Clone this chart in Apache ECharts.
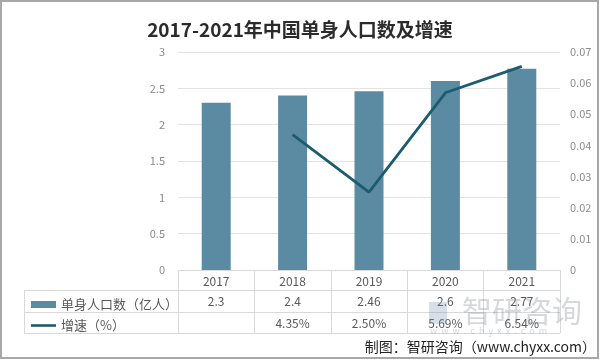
<!DOCTYPE html>
<html><head><meta charset="utf-8">
<script src="https://cdn.jsdelivr.net/npm/echarts@6/dist/echarts.min.js"></script>
<style>html,body{margin:0;padding:0;background:#fff}#c{width:600px;height:360px}</style>
</head><body><div id="c"></div>
<script>
const categories = ['2017', '2018', '2019', '2020', '2021'];
const population = [2.3, 2.4, 2.46, 2.6, 2.77];
const growth = [null, 0.0435, 0.025, 0.0569, 0.0654];
const leftTicks = { min: 0, max: 3, interval: 0.5 };
const rightTicks = { min: 0, max: 0.07, interval: 0.01 };
const seriesNames = ['单身人口数（亿人）', '增速（%）'];

const popLabels = population.map(v => String(v));
const growthLabels = growth.map(v => v == null ? '' : (v * 100).toFixed(2) + '%');

const FONT = '"Noto Sans CJK SC", "Noto Sans", sans-serif';
const gridC = '#d9d9d9';
const chart = echarts.init(document.getElementById('c'));
chart.setOption({
  animation: false,
  textStyle: { fontFamily: FONT },
  title: {
    text: '2017-2021年中国单身人口数及增速',
    left: 'center', top: 15,
    textStyle: { fontFamily: FONT, fontSize: 19, fontWeight: 'bold', color: '#2b2b2b' }
  },
  grid: { left: 178, right: 40, top: 52, bottom: 90 },
  legend: {
    orient: 'vertical', left: 26, top: 293, itemGap: 8,
    itemWidth: 25, itemHeight: 7,
    textStyle: { fontSize: 13, color: '#595959', fontFamily: FONT },
    data: [
      { name: seriesNames[0], icon: 'rect' },
      { name: seriesNames[1], icon: 'path://M0,0 L24,0 L24,2.5 L0,2.5 Z' }
    ]
  },
  xAxis: [
    {
      type: 'category', data: categories, position: 'bottom',
      axisLine: { lineStyle: { color: gridC } },
      axisTick: { show: true, length: 63, lineStyle: { color: gridC } },
      axisLabel: { color: '#595959', fontSize: 12, margin: 5 }
    },
    {
      type: 'category', data: popLabels, position: 'bottom', offset: 20,
      axisLine: { show: false }, axisTick: { show: false },
      axisLabel: { color: '#595959', fontSize: 12, margin: 5 }
    },
    {
      type: 'category', data: growthLabels, position: 'bottom', offset: 42,
      axisLine: { show: false }, axisTick: { show: false },
      axisLabel: { color: '#595959', fontSize: 12, margin: 5 }
    }
  ],
  yAxis: [
    {
      type: 'value', min: leftTicks.min, max: leftTicks.max, interval: leftTicks.interval,
      axisLine: { show: false }, axisTick: { show: false },
      axisLabel: { color: '#8c8c8c', fontSize: 11, margin: 13 },
      splitLine: { lineStyle: { color: '#e3e3e3' } }
    },
    {
      type: 'value', min: rightTicks.min, max: rightTicks.max, interval: rightTicks.interval,
      axisLine: { show: false }, axisTick: { show: false },
      axisLabel: { color: '#8c8c8c', fontSize: 11, margin: 10,
        formatter: v => String(+v.toFixed(2)) },
      splitLine: { show: false }
    }
  ],
  series: [
    {
      name: seriesNames[0], type: 'bar', data: population, barWidth: 29,
      itemStyle: { color: '#5b8ba3' }
    },
    {
      name: seriesNames[1], type: 'line', yAxisIndex: 1, data: growth,
      showSymbol: false, symbol: 'none',
      lineStyle: { color: '#1c5b70', width: 2.8 }, itemStyle: { color: '#1c5b70' }
    }
  ],
  graphic: [
    { type: 'line', shape: { x1: 24, y1: 290.5, x2: 560, y2: 290.5 }, style: { stroke: gridC, lineWidth: 1 } },
    { type: 'line', shape: { x1: 24, y1: 312.5, x2: 560, y2: 312.5 }, style: { stroke: gridC, lineWidth: 1 } },
    { type: 'line', shape: { x1: 24, y1: 333.5, x2: 560, y2: 333.5 }, style: { stroke: gridC, lineWidth: 1 } },
    { type: 'line', shape: { x1: 24.5, y1: 290, x2: 24.5, y2: 334 }, style: { stroke: gridC, lineWidth: 1 } },
    { type: 'rect', z: 100, silent: true, shape: { x: 429, y: 302, width: 18, height: 22 },
      style: { fill: 'rgba(120,150,175,0.3)' } },
    { type: 'text', z: 100, silent: true, x: 462, y: 296,
      style: { text: '智研咨询', fontSize: 30, fill: 'rgba(120,130,140,0.3)', fontFamily: FONT } },
    { type: 'text', z: 100, silent: true, x: 430, y: 326,
      style: { text: 'w  w  w  .  c  h  y  x  x  .  c  o  m', fontSize: 9, fill: 'rgba(120,130,140,0.3)', fontFamily: FONT } },
    { type: 'text', right: 4, top: 340,
      style: { text: '制图：智研咨询（www.chyxx.com）', fontSize: 14, fill: '#222', fontFamily: FONT } },
    { type: 'rect', z: 200, silent: true, shape: { x: 1, y: 1, width: 597, height: 357 },
      style: { fill: 'none', stroke: '#a8a8a8', lineWidth: 2 } }
  ]
});
</script></body></html>
